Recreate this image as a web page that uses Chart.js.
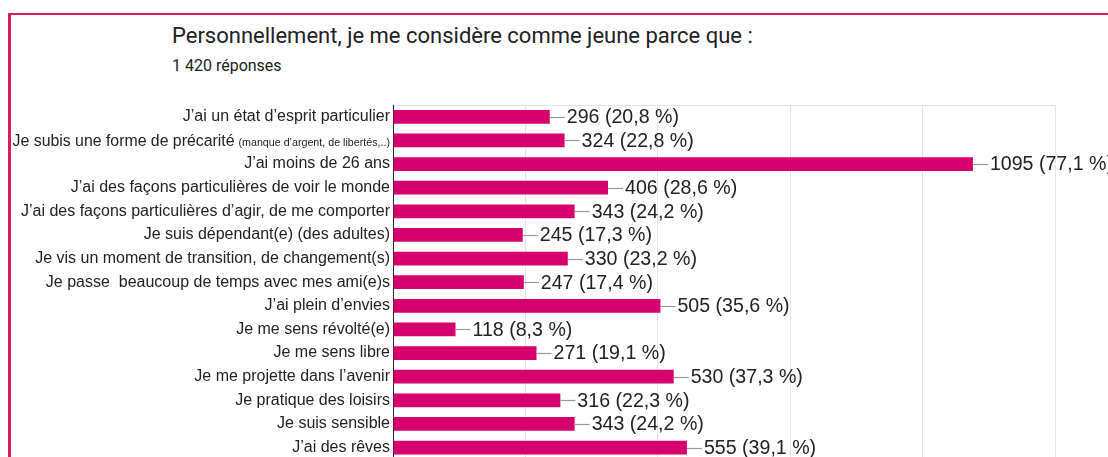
<!DOCTYPE html>
<html lang="fr">
<head>
<meta charset="utf-8">
<script src="https://cdn.jsdelivr.net/npm/chart.js@4.4.1/dist/chart.umd.min.js"></script>
<style>
  html, body { margin: 0; padding: 0; background: #fff; overflow: hidden; }
  #wrap { position: relative; width: 1108px; height: 457px; overflow: hidden; }
  #frame { position: absolute; left: 8px; top: 13px; width: 1200px; height: 600px;
           border-top: 2px solid #e1195f; border-left: 3px solid #e1195f; box-sizing: border-box; }
  #title { position: absolute; left: 172px; top: 23px; font-family: Roboto, sans-serif;
           font-size: 22px; color: #202124; white-space: nowrap; }
  #subtitle { position: absolute; left: 172px; top: 56px; font-family: Roboto, sans-serif;
              font-size: 16px; color: #202124; white-space: nowrap; }
  #c { position: absolute; left: 0; top: 0; }
</style>
</head>
<body>
<div id="wrap">
  <div id="frame"></div>
  <div id="title">Personnellement, je me considère comme jeune parce que :</div>
  <div id="subtitle">1 420 réponses</div>
  <canvas id="c" width="1108" height="472"></canvas>
</div>
<script>
const categories = [
  "J’ai un état d’esprit particulier",
  "Je subis une forme de précarité",
  "J’ai moins de 26 ans",
  "J’ai des façons particulières de voir le monde",
  "J’ai des façons particulières d’agir, de me comporter",
  "Je suis dépendant(e) (des adultes)",
  "Je vis un moment de transition, de changement(s)",
  "Je passe  beaucoup de temps avec mes ami(e)s",
  "J’ai plein d’envies",
  "Je me sens révolté(e)",
  "Je me sens libre",
  "Je me projette dans l’avenir",
  "Je pratique des loisirs",
  "Je suis sensible",
  "J’ai des rêves"
];
const notes = ["", "(manque d’argent, de libertés,..)", "", "", "", "", "", "", "", "", "", "", "", "", ""];
const counts = [296, 324, 1095, 406, 343, 245, 330, 247, 505, 118, 271, 530, 316, 343, 555];
const percents = [20.8, 22.8, 77.1, 28.6, 24.2, 17.3, 23.2, 17.4, 35.6, 8.3, 19.1, 37.3, 22.3, 24.2, 39.1];
const xTicks = [0, 250, 500, 750, 1000, 1250];

const LABEL_FONT = "Liberation Sans, Arial, sans-serif";

const barLabels = {
  id: 'barLabels',
  afterDatasetsDraw(chart) {
    const ctx = chart.ctx;
    const meta = chart.getDatasetMeta(0);
    ctx.save();
    meta.data.forEach((bar, i) => {
      const x = bar.x, y = bar.y;
      ctx.strokeStyle = '#9a9a9a';
      ctx.lineWidth = 1.2;
      ctx.beginPath();
      ctx.moveTo(x, Math.round(y) + 0.5);
      ctx.lineTo(x + 15, Math.round(y) + 0.5);
      ctx.stroke();
      ctx.fillStyle = '#222';
      ctx.font = '19.6px ' + LABEL_FONT;
      ctx.textAlign = 'left';
      ctx.textBaseline = 'middle';
      const txt = counts[i] + ' (' + percents[i].toFixed(1).replace('.', ',') + ' %)';
      ctx.fillText(txt, x + 17, y + 1);
    });
    ctx.restore();
  },
  afterDraw(chart) {
    const ctx = chart.ctx;
    const yScale = chart.scales.y;
    const right = chart.chartArea.left - 3;
    ctx.save();
    ctx.fillStyle = '#222';
    ctx.textBaseline = 'alphabetic';
    ctx.textAlign = 'right';
    notes.forEach((n, i) => {
      if (!n) return;
      const y = yScale.getPixelForValue(i);
      ctx.font = '10.7px ' + LABEL_FONT;
      const w = ctx.measureText(n).width;
      ctx.fillText(n, right, y + 6);
      ctx.font = '15.85px ' + LABEL_FONT;
      ctx.fillText(categories[i], right - w - 4, y + 6);
    });
    ctx.restore();
  }
};

new Chart(document.getElementById('c'), {
  type: 'bar',
  data: {
    labels: categories,
    datasets: [{
      data: counts,
      backgroundColor: '#d6006f',
      borderWidth: 0,
      categoryPercentage: 1,
      barPercentage: 0.58
    }]
  },
  options: {
    indexAxis: 'y',
    responsive: false,
    animation: false,
    events: [],
    layout: { padding: { top: 105, right: 53, bottom: 0, left: 0 } },
    plugins: { legend: { display: false }, tooltip: { enabled: false }, title: { display: false } },
    scales: {
      x: {
        min: 0, max: 1250,
        afterBuildTicks(scale) { scale.ticks = xTicks.map(v => ({ value: v })); },
        ticks: { display: false },
        grid: { color: '#e4e4e4', lineWidth: 1, drawTicks: false },
        border: { display: false },
        afterFit(scale) { scale.height = 0; }
      },
      y: {
        ticks: {
          autoSkip: false,
          padding: 3,
          color: '#222',
          font: { family: LABEL_FONT, size: 16 },
          callback(v, i) { return notes[i] ? '' : categories[i]; }
        },
        grid: {
          offset: true,
          drawTicks: false,
          color(ctx) { return ctx.index === 0 ? '#e4e4e4' : 'rgba(0,0,0,0)'; }
        },
        border: { display: true, color: '#222', width: 1 },
        afterFit(scale) { scale.width = 393; }
      }
    }
  },
  plugins: [barLabels]
});
</script>
</body>
</html>
